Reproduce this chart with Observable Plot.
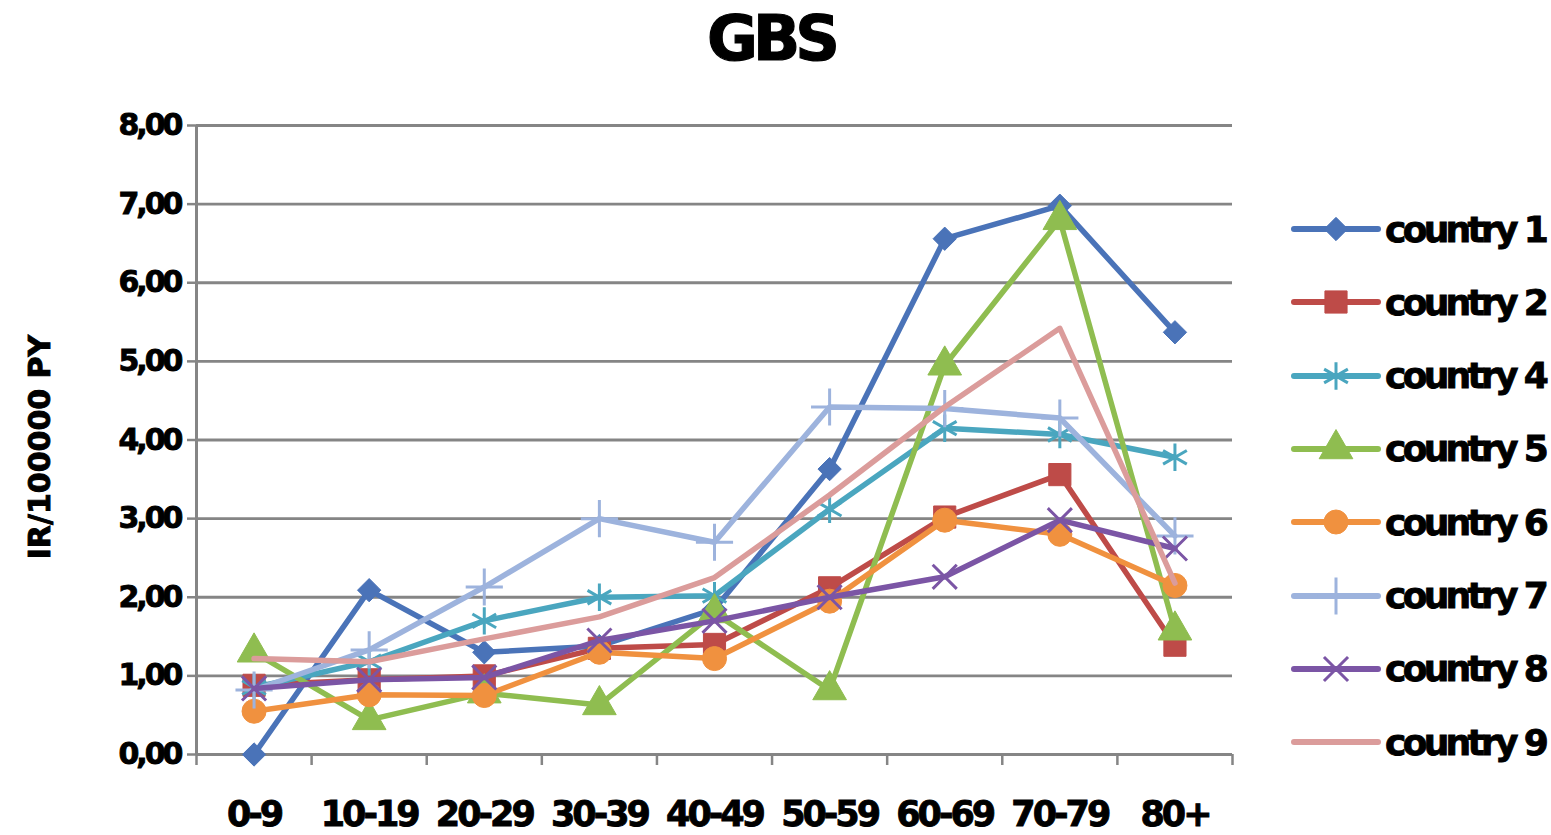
<!DOCTYPE html>
<html>
<head>
<meta charset="utf-8">
<script src="https://cdn.jsdelivr.net/npm/d3@7"></script>
<script src="https://cdn.jsdelivr.net/npm/@observablehq/plot@0.6"></script>
<style>
  html, body { margin: 0; padding: 0; background: #fff; }
  #page { position: relative; width: 1551px; height: 835px; overflow: hidden;
          font-family: "DejaVu Sans", sans-serif; font-weight: bold; }
  #title { position: absolute; left: 0; width: 1542px; top: 3px; text-align: center; font-size: 62px; line-height: 72px;
           color: #000; letter-spacing: -5px; -webkit-text-stroke: 1.2px #000; }
  #chart { position: absolute; left: 0; top: 100px; }
  #chart text { stroke: #000; stroke-width: 0.9px; }
  #chart g[aria-label="y-axis tick label"] text { letter-spacing: -3px; }
  #chart g[aria-label="x-axis tick label"] text { letter-spacing: -3px; }
  #legend { position: absolute; left: 1290px; top: 0; }
  .item { position: absolute; left: 0; height: 40px; display: flex; align-items: center; white-space: nowrap; }
  .item span { font-size: 36px; color: #000; margin-left: 3px; letter-spacing: -3.7px; -webkit-text-stroke: 0.9px #000; }
</style>
</head>
<body>
<div id="page">
  <div id="title">GBS</div>
  <div id="chart"></div>
  <div id="legend"></div>
</div>
<script>
// Age groups on the horizontal axis
const ageGroups = ["0-9", "10-19", "20-29", "30-39", "40-49", "50-59", "60-69", "70-79", "80+"];
const yTicks = [0, 1, 2, 3, 4, 5, 6, 7, 8];
const yLabel = "IR/100000 PY";

// Incidence rate per 100000 person-years, by country
const country1 = [0.00, 2.09, 1.30, 1.38, 1.85, 3.63, 6.56, 6.98, 5.37];
const country2 = [0.88, 0.95, 1.00, 1.35, 1.40, 2.12, 3.02, 3.56, 1.39];
const country4 = [0.85, 1.18, 1.70, 2.00, 2.02, 3.12, 4.15, 4.07, 3.78];
const country5 = [1.30, 0.44, 0.78, 0.63, 1.80, 0.82, 4.95, 6.80, 1.58];
const country6 = [0.55, 0.76, 0.75, 1.30, 1.22, 1.95, 2.98, 2.80, 2.15];
const country7 = [0.82, 1.33, 2.13, 3.00, 2.70, 4.42, 4.40, 4.28, 2.78];
const country8 = [0.84, 0.95, 0.98, 1.45, 1.70, 2.00, 2.26, 2.98, 2.62];
const country9 = [1.22, 1.18, 1.47, 1.75, 2.25, 3.30, 4.42, 5.42, 2.18];

const seriesNames = ["country 1", "country 2", "country 4", "country 5", "country 6", "country 7", "country 8", "country 9"];
const seriesValues = [country1, country2, country4, country5, country6, country7, country8, country9];
const seriesColors = ["#4a73b8", "#be4b48", "#4aa6bf", "#8fbd50", "#f0913f", "#9db3dd", "#7b55a5", "#db9c9b"];
// marker per series: [symbol, filled, radius]
const seriesMarkers = [
  ["diamond2", true, 10.5],
  ["square", true, 12.5],
  ["asterisk", false, 13],
  ["triangle", true, 12.5],
  ["circle", true, 12],
  ["plus", false, 12],
  ["times", false, 11],
  [null, false, 0]
];

const fmt = d => d.toFixed(2).replace(".", ",");
const gray = "#858585";

const rows = seriesNames.map((name, s) =>
  seriesValues[s].map((v, i) => ({series: name, age: ageGroups[i], pos: i + 0.5, value: v}))
);

const marks = [
  Plot.gridY(yTicks, {stroke: gray, strokeOpacity: 1, strokeWidth: 2.8}),
  Plot.ruleX([0], {y1: 0, y2: 8, stroke: gray, strokeWidth: 3}),
  Plot.axisY(yTicks, {
    tickSize: 9, tickPadding: 7, stroke: gray, strokeWidth: 2.5,
    tickFormat: fmt, fontSize: 30, fontWeight: "bold", fill: "#000", label: null
  }),
  Plot.text([yLabel], {
    frameAnchor: "left", textAnchor: "middle", rotate: -90, dx: -156, dy: 7,
    fontSize: 30, fontWeight: "bold", fill: "#000"
  }),
  // boundary ticks between age groups
  Plot.axisX(d3.range(0, 10), {tickSize: 11, stroke: gray, strokeWidth: 2.5, tickFormat: () => "", label: null}),
  // age group labels at the band centres
  Plot.axisX(ageGroups.map((_, i) => i + 0.5), {
    tickSize: 0, tickPadding: 47, tickFormat: p => ageGroups[Math.floor(p)],
    fontSize: 35, fontWeight: "bold", fill: "#000", label: null
  })
];

rows.forEach((data, s) => {
  const color = seriesColors[s];
  marks.push(Plot.line(data, {
    x: "pos", y: "value", stroke: color, strokeWidth: 5.5,
    strokeLinejoin: "round", strokeLinecap: "round"
  }));
  const [symbol, filled, r] = seriesMarkers[s];
  if (symbol) {
    marks.push(Plot.dot(data, filled
      ? {x: "pos", y: "value", symbol: () => symbol, r, fill: color, stroke: color, strokeWidth: 1}
      : {x: "pos", y: "value", symbol: () => symbol, r, fill: "none", stroke: color, strokeWidth: 3}
    ));
  }
});

const chart = Plot.plot({
  width: 1260,
  height: 735,
  marginLeft: 196,
  marginRight: 28,
  marginTop: 25,
  marginBottom: 81,
  style: {fontFamily: '"DejaVu Sans", sans-serif', background: "#fff", overflow: "visible"},
  x: {type: "linear", domain: [0, 9], axis: null},
  y: {domain: [0, 8], axis: null},
  symbol: {type: "identity"},
  marks
});
document.getElementById("chart").appendChild(chart);

// Legend: line swatch with the series marker, then its name
const legend = d3.select("#legend");
const symbolFor = {
  diamond2: d3.symbolDiamond2, square: d3.symbolSquare, asterisk: d3.symbolAsterisk,
  triangle: d3.symbolTriangle, circle: d3.symbolCircle, plus: d3.symbolPlus, times: d3.symbolTimes
};
seriesNames.forEach((name, s) => {
  const item = legend.append("div").attr("class", "item").style("top", (209 + s * 73.3) + "px");
  const svg = item.append("svg").attr("width", 92).attr("height", 40);
  svg.append("line").attr("x1", 4).attr("x2", 88).attr("y1", 20).attr("y2", 20)
    .attr("stroke", seriesColors[s]).attr("stroke-width", 6).attr("stroke-linecap", "round");
  const [symbol, filled, r] = seriesMarkers[s];
  if (symbol) {
    svg.append("path")
      .attr("transform", "translate(46,20)")
      .attr("d", d3.symbol(symbolFor[symbol], r * r * Math.PI)())
      .attr("fill", filled ? seriesColors[s] : "none")
      .attr("stroke", seriesColors[s])
      .attr("stroke-width", filled ? 1 : 3);
  }
  item.append("span").text(name);
});
</script>
</body>
</html>
